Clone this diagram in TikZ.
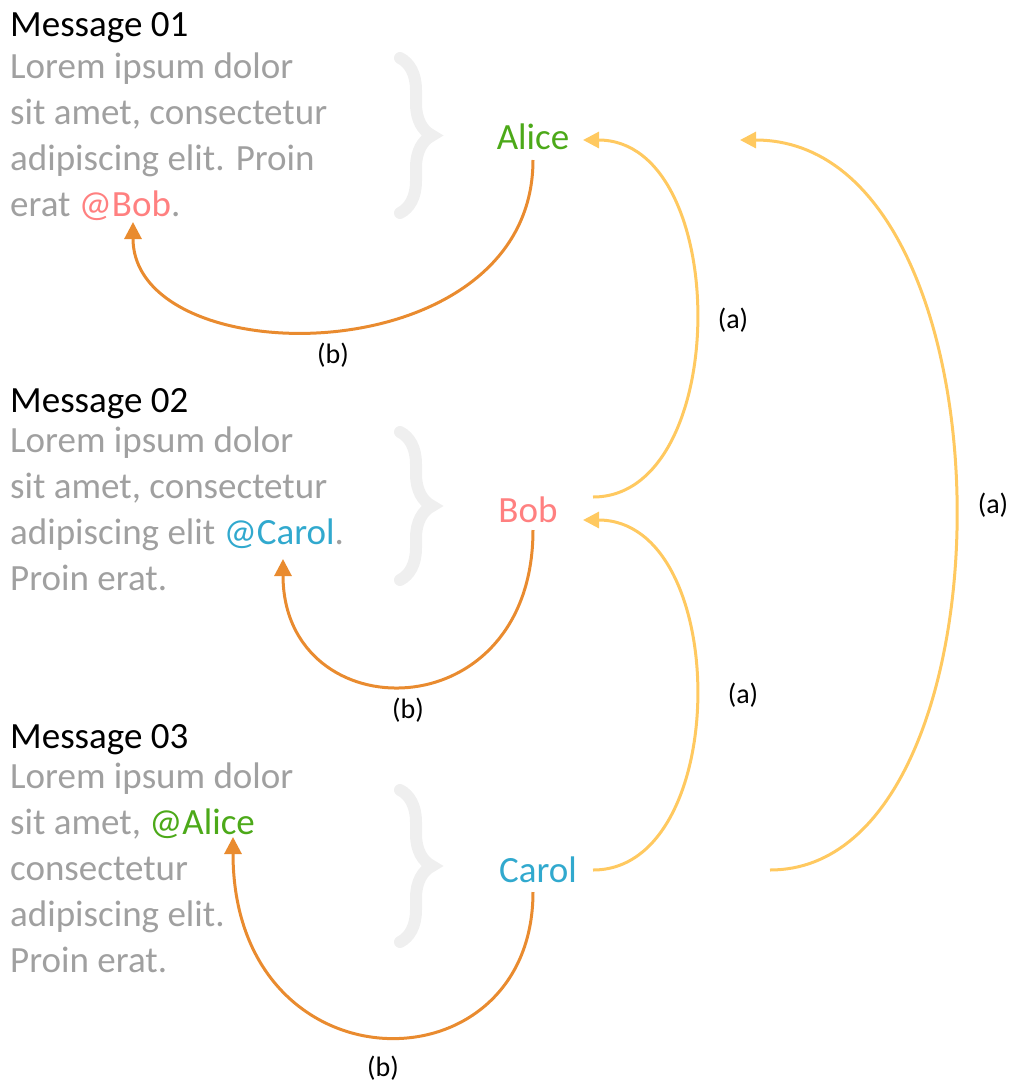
\documentclass[tikz,border=0pt]{standalone}
\usepackage{fontspec}
\setmainfont{Carlito}
\usetikzlibrary{arrows.meta,calc,decorations.pathreplacing}

\definecolor{lorem}{HTML}{A0A0A0}
\definecolor{bracegray}{HTML}{EFEFEF}
\definecolor{alicegreen}{HTML}{4CA919}
\definecolor{bobred}{HTML}{FF8080}
\definecolor{carolblue}{HTML}{31A9CE}
\definecolor{replyorange}{HTML}{E98B2F}
\definecolor{quoteyellow}{HTML}{FFC960}

\tikzset{every node/.append style={inner sep=0pt}}

\begin{document}
\begin{tikzpicture}[x=1pt,y=-1pt,font=\fontsize{37}{46}\selectfont,
  title/.style={anchor=base west},
  body/.style={anchor=base west, align=left, text=lorem},
  person/.style={anchor=base},
  bracket/.style={decorate, decoration={brace,amplitude=32pt}, draw=bracegray, line width=12pt, line cap=round},
  reply/.style={draw=replyorange, line width=3pt, -{Triangle[length=17pt,width=17pt]}},
  quote/.style={draw=quoteyellow, line width=3pt, -{Triangle[length=16pt,width=16pt]}},
  tag/.style={font=\fontsize{28}{30}\selectfont}]

  \useasboundingbox (0,0) rectangle (1016,1085);

  % messages (body nodes sit on their last line)
  \node[title] (head1) at (10,36) {Message 01};
  \node[body] (body1) at (10,216) {Lorem ipsum dolor\\sit amet, consectetur\\adipiscing elit. Proin\\erat \textcolor{bobred}{@Bob}.};
  \node[title] (head2) at (10,412) {Message 02};
  \node[body] (body2) at (10,590) {Lorem ipsum dolor\\sit amet, consectetur\\adipiscing elit \textcolor{carolblue}{@Carol}.\\Proin erat.};
  \node[title] (head3) at (10,748) {Message 03};
  \node[body] (body3) at (10,972) {Lorem ipsum dolor\\sit amet, \textcolor{alicegreen}{@Alice}\\consectetur\\adipiscing elit.\\Proin erat.};

  % braces
  \draw[bracket] (400,58) -- (400,213);
  \draw[bracket] (400,432) -- (400,580);
  \draw[bracket] (400,790) -- (400,942);

  % people
  \node[person, text=alicegreen] (alice) at (533,149) {Alice};
  \node[person, text=bobred] (bob) at (528,522) {Bob};
  \node[person, text=carolblue] (carol) at (538,882) {Carol};

  % mentions
  \coordinate (atbob) at (133,222);
  \coordinate (atcarol) at (283,559);
  \coordinate (atalice) at (233,837);

  % replies (b)
  \draw[reply] ($(alice.base)+(0,11)$) .. controls +(0,216) and +(0,154) .. (atbob);
  \draw[reply] ($(bob.base)+(5,8)$) .. controls +(0,203) and +(0,173) .. (atcarol);
  \draw[reply] ($(carol.base)+(-5,10)$) .. controls +(0,202) and +(0,256) .. (atalice);
  \node[tag] (b1) at (333,355) {(b)};
  \node[tag] (b2) at (408,710) {(b)};
  \node[tag] (b3) at (383,1068) {(b)};

  % quotes (a)
  \draw[quote] ($(bob.base)+(65,-25)$) .. controls +(139,0) and +(149,0) .. ($(alice.base)+(50,-9)$);
  \draw[quote] ($(carol.base)+(55,-12)$) .. controls +(139,0) and +(149,0) .. ($(bob.base)+(55,-2)$);
  \draw[quote] ($(carol.base)+(232,-12)$) .. controls +(252,0) and +(282,0) .. ($(alice.base)+(207,-9)$);
  \node[tag] (a1) at (733,320) {(a)};
  \node[tag] (a2) at (743,695) {(a)};
  \node[tag] (a3) at (993,505) {(a)};

\end{tikzpicture}
\end{document}
